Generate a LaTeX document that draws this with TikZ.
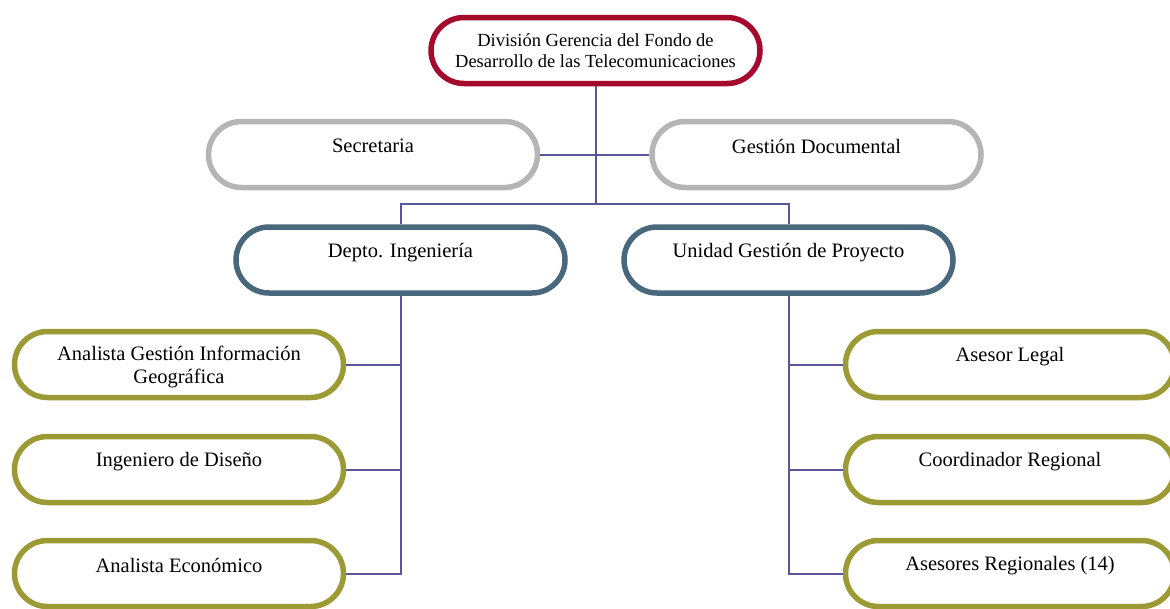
\documentclass[tikz,border=0pt]{standalone}
\usepackage{fontspec}
\setmainfont{Liberation Serif}
\definecolor{crim}{HTML}{A50A2C}
\definecolor{grayb}{HTML}{B5B5B5}
\definecolor{slate}{HTML}{4A687C}
\definecolor{olive}{HTML}{9C9A34}
\definecolor{conn}{HTML}{58559A}
\tikzset{
  box/.style={draw=#1, line width=5.5pt, rounded corners=33pt, fill=white,
    minimum width=329pt, minimum height=66pt, inner sep=0pt},
  lbl/.style={font=\fontsize{20.5}{23}\selectfont, align=center, inner sep=0pt, anchor=center},
  topl/.style={font=\fontsize{18.5}{21}\selectfont, align=center, inner sep=0pt},
  link/.style={draw=conn, line width=2pt}
}
\begin{document}
\begin{tikzpicture}[x=1pt,y=-1pt]
\clip (0,0) rectangle (1170,608);
\fill[white] (0,0) rectangle (1170,608);
\coordinate (j) at (595.5,204);
% boxes
\node[box=crim, topl] (top) at (595.5,50.5) {División Gerencia del Fondo de\\Desarrollo de las Telecomunicaciones};
\node[box=grayb, label={[lbl, yshift=-27.5pt]north:Secretaria}] (sec) at (373,154.5) {};
\node[box=grayb, label={[lbl, yshift=-27.5pt]north:Gestión Documental}] (gd) at (816.5,154.5) {};
\node[box=slate, label={[lbl, yshift=-28pt]north:Depto. Ingeniería}] (dep) at (400.5,260) {};
\node[box=slate, label={[lbl, yshift=-28pt]north:Unidad Gestión de Proyecto}] (ugp) at (788.5,260) {};
\node[box=olive, label={[lbl, yshift=-38.5pt]north:Analista Gestión Información\\Geográfica}] (a1) at (179,364.5) {};
\node[box=olive, label={[lbl, yshift=-28pt]north:Ingeniero de Diseño}] (a2) at (179,469.5) {};
\node[box=olive, label={[lbl, yshift=-27.5pt]north:Analista Económico}] (a3) at (179,573.5) {};
\node[box=olive, label={[lbl, yshift=-27.5pt]north:Asesor Legal}] (b1) at (1010,364.5) {};
\node[box=olive, label={[lbl, yshift=-28pt]north:Coordinador Regional}] (b2) at (1010,469.5) {};
\node[box=olive, label={[lbl, yshift=-27.5pt]north:Asesores Regionales (14)}] (b3) at (1010,573.5) {};
% links
\path[link] (top.south) -- (j);
\path[link] (sec.east) -- (gd.west);
\path[link] (j) -| (dep.north);
\path[link] (j) -| (ugp.north);
\path[link] (dep.south) |- (a1.east);
\path[link] (dep.south) |- (a2.east);
\path[link] (dep.south) |- (a3.east);
\path[link] (ugp.south) |- (b1.west);
\path[link] (ugp.south) |- (b2.west);
\path[link] (ugp.south) |- (b3.west);
\end{tikzpicture}
\end{document}
